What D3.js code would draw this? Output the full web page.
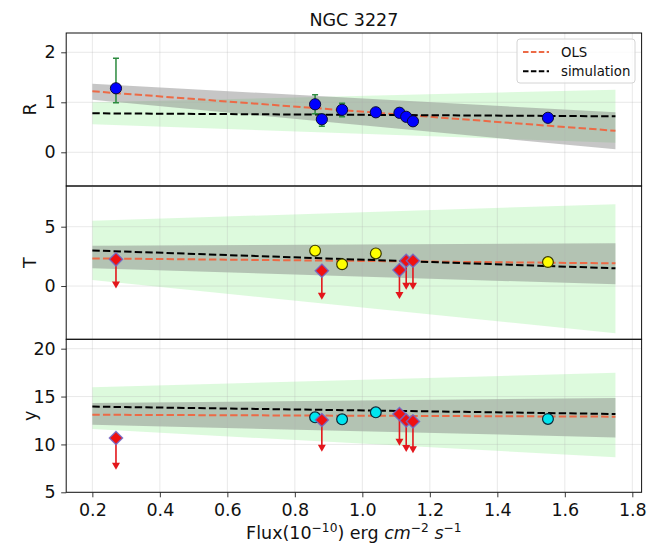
<!DOCTYPE html>
<html>
<head>
<meta charset="utf-8">
<script src="https://cdn.jsdelivr.net/npm/d3@7"></script>
<style>
  body { margin: 0; background: #fff; }
  text { font-family: "DejaVu Sans", "Liberation Sans", sans-serif; fill: #111; }
</style>
</head>
<body>
<svg id="chart" width="659" height="546"></svg>
<script>
// ---- data ---------------------------------------------------------------
// fluxes (1e-10 erg cm^-2 s^-1) of the observations
const flux = [0.27, 0.86, 0.88, 0.94, 1.04, 1.11, 1.13, 1.15, 1.55];

// R: measured values with asymmetric errors
const rValue   = [1.28, 0.96, 0.66, 0.85, 0.80, 0.79, 0.71, 0.62, 0.69];
const rErrLow  = [0.29, 0.19, 0.14, 0.14, 0.05, 0.09, 0.07, 0.05, 0.05];
const rErrHigh = [0.60, 0.19, 0.10, 0.13, 0.05, 0.09, 0.07, 0.05, 0.05];

// T and y: detections and upper limits
const detFlux = [0.86, 0.94, 1.04, 1.55];
const limFlux = [0.27, 0.88, 1.11, 1.13, 1.15];
const tDet = [2.98, 1.83, 2.75, 2.02];
const tLim = [2.25, 1.29, 1.35, 2.13, 2.13];
const tLimArrow = [2.2, 2.2, 2.2, 2.2, 2.2];
const yDet = [12.83, 12.62, 13.35, 12.66];
const yLim = [10.67, 12.55, 13.18, 12.51, 12.40];
const yLimArrow = [3.0, 3.0, 3.0, 3.0, 3.0];

// fitted relations evaluated at the ends of the flux range
const fitFlux = [0.2, 1.75];
const rOls = [1.22, 0.43],  rSim = [0.78, 0.72];
const rOlsLo = [1.05, 0.06], rOlsHi = [1.37, 0.80];
const rSimLo = [0.56, 0.19], rSimHi = [1.00, 1.25];
const tOls = [2.33, 1.91],  tSim = [3.00, 1.49];
const tOlsLo = [1.49, 0.14], tOlsHi = [3.40, 3.60];
const tSimLo = [0.50, -3.98], tSimHi = [5.50, 6.90];
const yOls = [13.10, 12.90], ySim = [13.95, 13.18];
const yOlsLo = [12.06, 10.73], yOlsHi = [14.33, 14.86];
const ySimLo = [11.60, 8.67], ySimHi = [15.98, 17.49];

// axis ticks
const xTicks = [0.2, 0.4, 0.6, 0.8, 1.0, 1.2, 1.4, 1.6, 1.8];
const rTicks = [0, 1, 2];
const tTicks = [0, 5];
const yTicks = [5, 10, 15, 20];

// ---- layout -------------------------------------------------------------
const svg = d3.select("#chart");
const left = 66.2, right = 641.6;
const x = d3.scaleLinear().domain([0.1225, 1.8275]).range([left, right]);
const FS = 17.5;
const olsColor = "#ec6a46";

const panels = [
  { label: "R", top: 33,    bottom: 186,   domain: [-0.674, 2.386], ticks: rTicks,
    ols: rOls, sim: rSim, olsLo: rOlsLo, olsHi: rOlsHi, simLo: rSimLo, simHi: rSimHi },
  { label: "T", top: 186,   bottom: 339.3, domain: [-4.49, 8.43],   ticks: tTicks,
    ols: tOls, sim: tSim, olsLo: tOlsLo, olsHi: tOlsHi, simLo: tSimLo, simHi: tSimHi,
    det: tDet, lim: tLim, limArrow: tLimArrow, detColor: "#ffff00", detEdge: "#3a3a00" },
  { label: "y", top: 339.3, bottom: 492.3, domain: [5, 20.98],      ticks: yTicks,
    ols: yOls, sim: ySim, olsLo: yOlsLo, olsHi: yOlsHi, simLo: ySimLo, simHi: ySimHi,
    det: yDet, lim: yLim, limArrow: yLimArrow, detColor: "#00e5ee", detEdge: "#0a2a3a" }
];

const defs = svg.append("defs");

panels.forEach((p, i) => {
  const y = d3.scaleLinear().domain(p.domain).range([p.bottom, p.top]);
  const clipId = "clip" + i;
  defs.append("clipPath").attr("id", clipId)
    .append("rect").attr("x", left).attr("y", p.top)
    .attr("width", right - left).attr("height", p.bottom - p.top);

  const g = svg.append("g");
  const body = g.append("g").attr("clip-path", `url(#${clipId})`);

  const band = (lo, hi) => d3.area()
    .x((d) => x(d))
    .y0((d, k) => y(lo[k]))
    .y1((d, k) => y(hi[k]))(fitFlux);

  // simulation scatter band, then OLS confidence band
  body.append("path").attr("d", band(p.simLo, p.simHi))
    .attr("fill", "#90ee90").attr("fill-opacity", 0.3);
  body.append("path").attr("d", band(p.olsLo, p.olsHi))
    .attr("fill", "#808080").attr("fill-opacity", 0.45);

  // grid
  body.selectAll(".gx").data(xTicks).join("line")
    .attr("x1", (d) => x(d)).attr("x2", (d) => x(d))
    .attr("y1", p.top).attr("y2", p.bottom)
    .attr("stroke", "#b0b0b0").attr("stroke-opacity", 0.35).attr("stroke-width", 0.8);
  body.selectAll(".gy").data(p.ticks).join("line")
    .attr("x1", left).attr("x2", right)
    .attr("y1", (d) => y(d)).attr("y2", (d) => y(d))
    .attr("stroke", "#b0b0b0").attr("stroke-opacity", 0.35).attr("stroke-width", 0.8);

  // fit lines
  const line = (vals) => d3.line().x((d) => x(d)).y((d, k) => y(vals[k]))(fitFlux);
  body.append("path").attr("d", line(p.ols)).attr("fill", "none")
    .attr("stroke", olsColor).attr("stroke-width", 2).attr("stroke-dasharray", "7.4,3.2");
  body.append("path").attr("d", line(p.sim)).attr("fill", "none")
    .attr("stroke", "#000").attr("stroke-width", 2).attr("stroke-dasharray", "7.4,3.2");

  if (i === 0) {
    // error bars and measured R
    const eb = body.append("g").attr("stroke", "#2b8a3e").attr("stroke-width", 1.5);
    flux.forEach((f, k) => {
      const yt = y(rValue[k] + rErrHigh[k]), yb = y(rValue[k] - rErrLow[k]);
      eb.append("line").attr("x1", x(f)).attr("x2", x(f)).attr("y1", yt).attr("y2", yb);
      eb.append("line").attr("x1", x(f) - 3).attr("x2", x(f) + 3).attr("y1", yt).attr("y2", yt);
      eb.append("line").attr("x1", x(f) - 3).attr("x2", x(f) + 3).attr("y1", yb).attr("y2", yb);
    });
    body.selectAll(".pt").data(flux).join("circle")
      .attr("cx", (d) => x(d)).attr("cy", (d, k) => y(rValue[k])).attr("r", 5.6)
      .attr("fill", "#0000ff").attr("stroke", "#0b0b3a").attr("stroke-width", 1);
  } else {
    // detections
    body.selectAll(".pt").data(detFlux).join("circle")
      .attr("cx", (d) => x(d)).attr("cy", (d, k) => y(p.det[k])).attr("r", 5.4)
      .attr("fill", p.detColor).attr("stroke", p.detEdge).attr("stroke-width", 1.2);
    // upper limits: arrow then diamond
    const ar = body.append("g");
    limFlux.forEach((f, k) => {
      const cx = x(f), y0 = y(p.lim[k]), y1 = y(p.lim[k] - p.limArrow[k]);
      ar.append("line").attr("x1", cx).attr("x2", cx).attr("y1", y0).attr("y2", y1 - 2)
        .attr("stroke", "#e3161b").attr("stroke-width", 1.6);
      ar.append("path")
        .attr("d", `M${cx - 4},${y1 - 4}L${cx + 4},${y1 - 4}L${cx},${y1 + 3}Z`)
        .attr("fill", "#e3161b");
    });
    limFlux.forEach((f, k) => {
      const cx = x(f), cy = y(p.lim[k]), h = 6.6;
      body.append("path")
        .attr("d", `M${cx},${cy - h}L${cx + h},${cy}L${cx},${cy + h}L${cx - h},${cy}Z`)
        .attr("fill", "#f01010").attr("stroke", "#6f66c8").attr("stroke-width", 1.4)
        .attr("stroke-opacity", 0.85);
    });
  }

  // y axis
  const ay = g.append("g").attr("transform", `translate(${left},0)`)
    .call(d3.axisLeft(y).tickValues(p.ticks).tickSize(5).tickPadding(5.5).tickFormat(d3.format("d")));
  ay.select(".domain").remove();
  ay.selectAll("line").attr("stroke", "#222").attr("stroke-width", 0.9);
  ay.selectAll("text").attr("font-size", FS).attr("fill", "#111").attr("font-family", "DejaVu Sans");

  // axis title
  g.append("text").attr("transform", `translate(36,${(p.top + p.bottom) / 2}) rotate(-90)`)
    .attr("text-anchor", "middle").attr("font-size", FS).text(p.label);

  // frame
  g.append("rect").attr("x", left).attr("y", p.top)
    .attr("width", right - left).attr("height", p.bottom - p.top)
    .attr("fill", "none").attr("stroke", "#111").attr("stroke-width", 1);
});

// x axis on the bottom panel
const ax = svg.append("g").attr("transform", `translate(0,${panels[2].bottom})`)
  .call(d3.axisBottom(x).tickValues(xTicks).tickSize(5).tickPadding(6.2).tickFormat(d3.format(".1f")));
ax.select(".domain").remove();
ax.selectAll("line").attr("stroke", "#222").attr("stroke-width", 0.9);
ax.selectAll("text").attr("font-size", FS).attr("fill", "#111").attr("font-family", "DejaVu Sans");

// x label with superscripts
const xl = svg.append("text").attr("x", (left + right) / 2).attr("y", 539)
  .attr("text-anchor", "middle").attr("font-size", FS);
xl.append("tspan").text("Flux(10");
xl.append("tspan").attr("dy", -7).attr("font-size", FS * 0.7).text("\u221210");
xl.append("tspan").attr("dy", 7).text(") erg ");
xl.append("tspan").attr("font-style", "italic").text("cm");
xl.append("tspan").attr("dy", -7).attr("font-size", FS * 0.7).text("\u22122");
xl.append("tspan").attr("dy", 7).text(" ");
xl.append("tspan").attr("font-style", "italic").text("s");
xl.append("tspan").attr("dy", -7).attr("font-size", FS * 0.7).text("\u22121");

// title
svg.append("text").attr("x", (left + right) / 2).attr("y", 26)
  .attr("text-anchor", "middle").attr("font-size", FS).text("NGC 3227");

// legend
const lg = svg.append("g");
lg.append("rect").attr("x", 517).attr("y", 39).attr("width", 118).attr("height", 44).attr("rx", 3)
  .attr("fill", "#fff").attr("fill-opacity", 0.8).attr("stroke", "#d4d4d4");
const legendItems = [
  { name: "OLS", color: olsColor },
  { name: "simulation", color: "#000" }
];
legendItems.forEach((d, k) => {
  const yy = 52 + k * 19.3;
  lg.append("line").attr("x1", 523).attr("x2", 549).attr("y1", yy).attr("y2", yy)
    .attr("stroke", d.color).attr("stroke-width", 2).attr("stroke-dasharray", "5.5,2.4");
  lg.append("text").attr("x", 561).attr("y", yy + 4.8).attr("font-size", 13.3).text(d.name);
});
</script>
</body>
</html>
